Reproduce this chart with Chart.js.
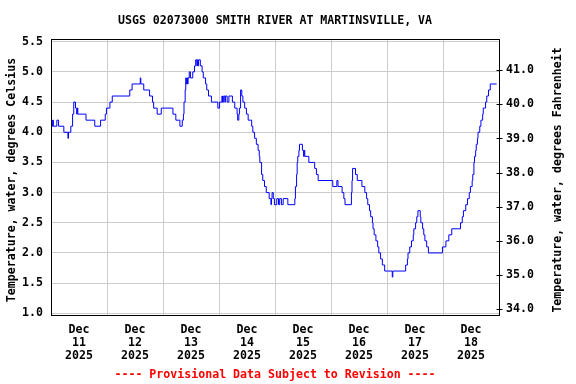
<!DOCTYPE html>
<html>
<head>
<meta charset="utf-8">
<script src="https://cdn.jsdelivr.net/npm/chart.js@4/dist/chart.umd.min.js"></script>
<style>
html,body{margin:0;padding:0;background:#ffffff;}
canvas{display:block;}
</style>
</head>
<body>
<canvas id="c" width="576" height="384"></canvas>
<script>
// ---------- text ----------
const chartTitle = 'USGS 02073000 SMITH RIVER AT MARTINSVILLE, VA';
const footerText = '---- Provisional Data Subject to Revision ----';
const leftAxisTitle = 'Temperature, water, degrees Celsius';
const rightAxisTitle = 'Temperature, water, degrees Fahrenheit';
const monthLabel = 'Dec';
const yearLabel = '2025';
const dayLabels = ['11', '12', '13', '14', '15', '16', '17', '18'];

// ---------- tick values ----------
const celsiusTicks = [1.0, 1.5, 2.0, 2.5, 3.0, 3.5, 4.0, 4.5, 5.0, 5.5];
const fahrenheitTicks = [34, 35, 36, 37, 38, 39, 40, 41];

// ---------- series: hours since Dec 11 00:00, water temperature (deg C) ----------
const hours = [
  0,0.5,0.75,1,2.5,3.25,5.5,7.25,7.5,8.5,9.25,9.75,10.5,11,11.25,11.5,15,18.75,21.25,23.25,23.75,
  25.25,26.25,33.75,34.75,38.25,38.5,39.75,42.25,43.5,44,45.5,47.25,
  52.25,53.5,55.25,56.25,56.75,57,57.5,57.75,58,58.25,58.5,58.75,59.25,59.75,60.75,61.5,62,62.5,62.75,63,63.25,64,64.75,65.25,66.25,66.75,67.5,68.75,71.5,
  72.25,73.25,73.5,74,74.5,74.75,75.5,76.25,77.75,78.75,79.75,80,80.5,80.75,81.25,81.75,82.25,83,83.75,84.5,86,86.5,87.25,88,88.75,89.25,89.5,90.25,90.75,91.5,92.25,93.5,94.25,94.5,94.75,95.25,95.75,
  96.75,97.5,98,98.75,99.5,101.5,104.5,104.75,105.25,105.5,105.75,106.25,106.5,107.75,108.25,108.5,108.75,110.5,113,113.75,114.5,
  120.75,122.5,123,124.75,125.5,126,128.75,129,129.25,130.5,131.25,133.25,134.5,135.25,135.75,136.5,137,137.75,138,138.5,139.25,140,140.5,141.25,142,143,
  146.25,146.5,152,152.75,153,153.75,154.5,155.25,155.5,156.25,156.75,157.25,158.25,158.5,159.25,159.75,160.25,161,161.75,167.75,
  169.25,170.5,171.75,175.5,176.25,176.75,177.75,178.5,179.25,179.75,180.5,180.75,181.25,181.5,182,182.25,182.75,183,183.75,184.25,185,185.25,186.25,186.75,187.5,188.25,191
];
const tempC = [
  4.2,4.1,4.2,4.1,4.2,4.1,4.0,3.9,4.0,4.1,4.3,4.5,4.4,4.3,4.4,4.3,4.2,4.1,4.2,4.3,4.4,
  4.5,4.6,4.7,4.8,4.9,4.8,4.7,4.6,4.5,4.4,4.3,4.4,
  4.3,4.2,4.1,4.2,4.3,4.5,4.7,4.9,4.8,4.9,4.8,4.9,5.0,4.9,5.0,5.1,5.2,5.1,5.2,5.1,5.2,5.1,5.0,4.9,4.8,4.7,4.6,4.5,4.4,
  4.5,4.6,4.5,4.6,4.5,4.6,4.5,4.6,4.5,4.4,4.3,4.2,4.3,4.4,4.7,4.6,4.5,4.4,4.3,4.2,4.1,4.0,3.9,3.8,3.7,3.6,3.5,3.3,3.2,3.1,3.0,2.9,2.8,2.9,3.0,2.9,2.8,
  2.9,2.8,2.9,2.8,2.9,2.8,2.9,3.1,3.3,3.5,3.6,3.7,3.8,3.7,3.6,3.7,3.6,3.5,3.4,3.3,3.2,
  3.1,3.2,3.1,3.0,2.9,2.8,3.0,3.2,3.4,3.3,3.2,3.1,3.0,2.9,2.8,2.7,2.6,2.5,2.4,2.3,2.2,2.1,2.0,1.9,1.8,1.7,
  1.6,1.7,1.8,1.9,2.0,2.1,2.2,2.3,2.4,2.5,2.6,2.7,2.6,2.5,2.4,2.3,2.2,2.1,2.0,2.1,
  2.2,2.3,2.4,2.5,2.6,2.7,2.8,2.9,3.0,3.1,3.2,3.3,3.5,3.6,3.7,3.8,3.9,4.0,4.1,4.2,4.3,4.4,4.5,4.6,4.7,4.8,4.8
];

// ---------- derived ----------
const points = hours.map((h, i) => ({ x: h, y: tempC[i] }));
const xTickHours = [];
for (let d = 0; d <= dayLabels.length; d++) {
  xTickHours.push(d * 24);
  if (d < dayLabels.length) xTickHours.push(d * 24 + 12);
}

const FAMILY = "'DejaVu Sans Mono', monospace";
const FSIZE = 11.6;
const tickFont = { family: FAMILY, size: FSIZE, weight: 'bold', lineHeight: 1.15 };
const cssFont = 'bold ' + FSIZE + 'px ' + FAMILY;

const decor = {
  id: 'decor',
  afterDraw(chart) {
    const ctx = chart.ctx;
    const a = chart.chartArea;
    ctx.save();
    // frame
    ctx.strokeStyle = '#000000';
    ctx.lineWidth = 1;
    const L = Math.round(a.left) + 0.5, R = Math.round(a.right) + 0.5;
    const T = Math.round(a.top) + 0.5, B = Math.round(a.bottom) - 0.5;
    ctx.strokeRect(L, T, R - L, B - T);
    // right axis tick marks (crossing the axis line)
    const y2 = chart.scales.y2;
    ctx.beginPath();
    y2.ticks.forEach(t => {
      const py = Math.round(y2.getPixelForValue(t.value)) + 0.5;
      ctx.moveTo(R - 3, py);
      ctx.lineTo(R + 3, py);
    });
    ctx.stroke();
    // texts
    ctx.font = cssFont;
    ctx.fillStyle = '#000000';
    ctx.textAlign = 'center';
    ctx.textBaseline = 'middle';
    const cx = (a.left + a.right) / 2;
    ctx.fillText(chartTitle, cx, 21);
    ctx.fillStyle = '#ff0000';
    ctx.fillText(footerText, cx, 375);
    ctx.fillStyle = '#000000';
    const cy = 180;
    ctx.save();
    ctx.translate(12, cy);
    ctx.rotate(-Math.PI / 2);
    ctx.fillText(leftAxisTitle, 0, 0);
    ctx.restore();
    ctx.save();
    ctx.translate(557.5, cy);
    ctx.rotate(-Math.PI / 2);
    ctx.fillText(rightAxisTitle, 0, 0);
    ctx.restore();
    ctx.restore();
  }
};

new Chart(document.getElementById('c'), {
  type: 'line',
  data: {
    datasets: [{
      data: points,
      borderColor: '#0000ff',
      borderWidth: 1,
      pointRadius: 0,
      stepped: true,
      fill: false,
      yAxisID: 'y'
    }]
  },
  options: {
    responsive: false,
    animation: false,
    devicePixelRatio: 1,
    layout: { padding: { top: 39, left: 0, right: 0, bottom: 0 } },
    plugins: { legend: { display: false }, tooltip: { enabled: false }, title: { display: false } },
    scales: {
      x: {
        type: 'linear',
        position: 'bottom',
        min: 0,
        max: dayLabels.length * 24,
        afterBuildTicks: s => { s.ticks = xTickHours.map(v => ({ value: v })); },
        afterFit: s => { s.height = 68; },
        border: { display: false },
        grid: {
          drawTicks: false,
          lineWidth: 1,
          color: c => (c.tick && c.tick.value % 24 === 0) ? '#cccccc' : 'rgba(0,0,0,0)'
        },
        ticks: {
          autoSkip: false,
          maxRotation: 0,
          minRotation: 0,
          padding: 7,
          color: '#000000',
          font: tickFont,
          callback: v => (v % 24 === 12) ? [monthLabel, dayLabels[(v - 12) / 24], yearLabel] : ''
        }
      },
      y: {
        type: 'linear',
        position: 'left',
        min: 0.955,
        max: 5.545,
        afterBuildTicks: s => { s.ticks = celsiusTicks.map(v => ({ value: v })); },
        afterFit: s => { s.width = 51; },
        border: { display: false },
        grid: { color: '#cccccc', lineWidth: 1, drawTicks: false },
        ticks: { padding: 8, color: '#000000', font: tickFont, callback: v => Number(v).toFixed(1) }
      },
      y2: {
        type: 'linear',
        position: 'right',
        min: 33.79,
        max: 41.92,
        afterBuildTicks: s => { s.ticks = fahrenheitTicks.map(v => ({ value: v })); },
        afterFit: s => { s.width = 77; },
        border: { display: false },
        grid: { drawOnChartArea: false, drawTicks: false },
        ticks: { padding: 7, color: '#000000', font: tickFont, callback: v => Number(v).toFixed(1) }
      }
    }
  },
  plugins: [decor]
});
</script>
</body>
</html>
